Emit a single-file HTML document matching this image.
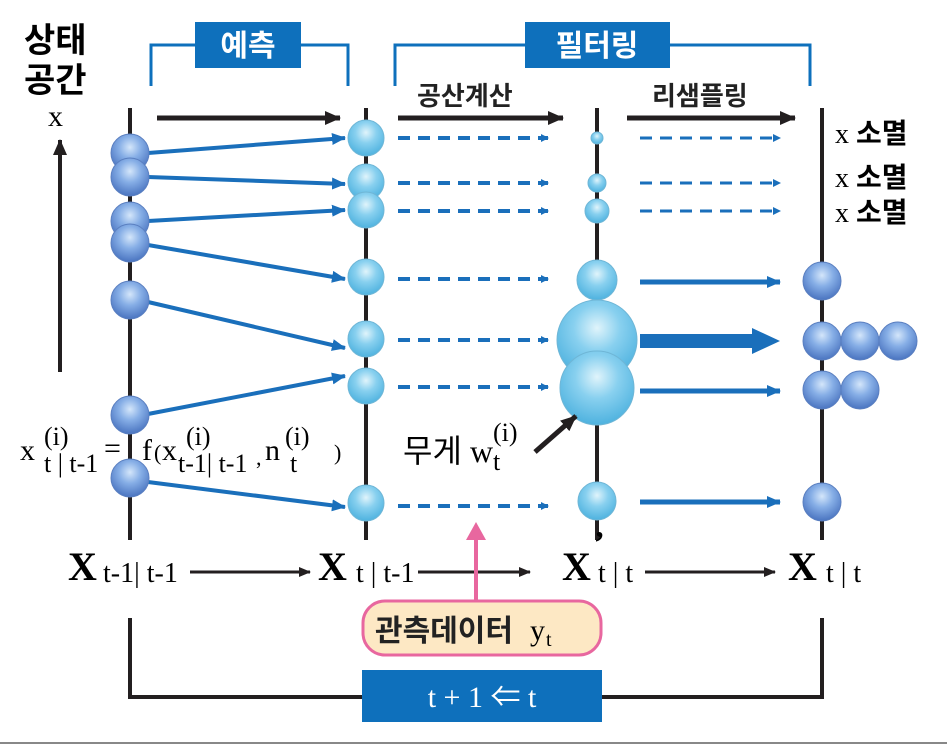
<!DOCTYPE html>
<html><head><meta charset="utf-8"><style>
html,body{margin:0;padding:0;background:#fff;}
svg{display:block;font-family:"Liberation Serif","Noto Sans CJK KR",serif;}
.k{font-family:"Liberation Sans","Noto Sans CJK KR",sans-serif;}
</style></head><body>
<svg width="947" height="745" viewBox="0 0 947 745">
<defs>
<radialGradient id="gb" cx="50%" cy="35%" r="65%"><stop offset="0" stop-color="#d4e6fa"/><stop offset="0.45" stop-color="#86aee6"/><stop offset="1" stop-color="#4a74c0"/></radialGradient>
<radialGradient id="gc" cx="50%" cy="35%" r="65%"><stop offset="0" stop-color="#e0f4fb"/><stop offset="0.45" stop-color="#88d0ef"/><stop offset="1" stop-color="#4eb2df"/></radialGradient>
<marker id="ab" markerWidth="8" markerHeight="8" refX="7" refY="4" orient="auto" markerUnits="userSpaceOnUse"><path d="M0,0 L8,4 L0,8z" fill="#1a6fbb"/></marker>
<marker id="ab2" markerWidth="14" markerHeight="12" refX="13" refY="6" orient="auto" markerUnits="userSpaceOnUse"><path d="M0,0 L14,6 L0,12z" fill="#1a6fbb"/></marker>
<marker id="ak" markerWidth="16" markerHeight="14" refX="15" refY="7" orient="auto" markerUnits="userSpaceOnUse"><path d="M0,0 L16,7 L0,14z" fill="#231f20"/></marker>
<marker id="ak2" markerWidth="12" markerHeight="10" refX="11" refY="5" orient="auto" markerUnits="userSpaceOnUse"><path d="M0,0 L12,5 L0,10z" fill="#231f20"/></marker>
</defs>
<line x1="0" y1="743" x2="947" y2="743" stroke="#888" stroke-width="2"/>
<path d="M130,618 V697 H822 V618" fill="none" stroke="#231f20" stroke-width="4"/>
<rect x="362" y="670" width="240" height="52" fill="#0e70bc"/>
<text x="482" y="707" font-size="30" fill="#fff" text-anchor="middle">t + 1 ⇐ t</text>
<g stroke="#231f20" stroke-width="4">
<line x1="130" y1="108" x2="130" y2="540"/><line x1="366" y1="108" x2="366" y2="540"/>
<line x1="597" y1="108" x2="597" y2="540"/><line x1="822" y1="108" x2="822" y2="540"/>
</g>
<path d="M151,86 V45 H348 V86" fill="none" stroke="#0e70bc" stroke-width="3"/>
<path d="M395,86 V45 H810 V86" fill="none" stroke="#0e70bc" stroke-width="3"/>
<rect x="195" y="22" width="106" height="46" fill="#0e70bc"/>
<text x="248" y="56" class="k" font-size="30" font-weight="bold" fill="#fff" text-anchor="middle">예측</text>
<rect x="525" y="22" width="145" height="46" fill="#0e70bc"/>
<text x="597" y="56" class="k" font-size="30" font-weight="bold" fill="#fff" text-anchor="middle">필터링</text>
<text x="24" y="52" class="k" font-size="34" font-weight="bold">상태</text>
<text x="24" y="92" class="k" font-size="34" font-weight="bold">공간</text>
<text x="48" y="126" font-size="30">x</text>
<line x1="60" y1="372" x2="60" y2="140" stroke="#231f20" stroke-width="4" marker-end="url(#ak)"/>
<g stroke="#231f20" stroke-width="5">
<line x1="157" y1="118" x2="340" y2="118" marker-end="url(#ak)"/>
<line x1="398" y1="118" x2="563" y2="118" marker-end="url(#ak)"/>
<line x1="627" y1="118" x2="795" y2="118" marker-end="url(#ak)"/>
</g>
<text x="417" y="105" class="k" font-size="26" font-weight="bold" fill="#222">공산계산</text>
<text x="652" y="105" class="k" font-size="26" font-weight="bold" fill="#222">리샘플링</text>
<g stroke="#1a6fbb" stroke-width="4" marker-end="url(#ab2)">
<line x1="148" y1="153" x2="345" y2="138"/><line x1="148" y1="177" x2="345" y2="184"/>
<line x1="148" y1="221" x2="345" y2="210"/><line x1="148" y1="245" x2="345" y2="279"/>
<line x1="148" y1="302" x2="345" y2="348"/><line x1="148" y1="414" x2="345" y2="376"/>
<line x1="148" y1="482" x2="345" y2="507"/>
</g>
<g stroke="#1a6fbb" stroke-width="4" stroke-dasharray="12,8" marker-end="url(#ab)">
<line x1="398" y1="138" x2="548" y2="138"/><line x1="398" y1="183" x2="548" y2="183"/>
<line x1="398" y1="211" x2="548" y2="211"/><line x1="398" y1="279" x2="548" y2="279"/>
<line x1="398" y1="340" x2="548" y2="340"/><line x1="398" y1="387" x2="548" y2="387"/>
<line x1="398" y1="506" x2="548" y2="506"/>
<line x1="640" y1="138" x2="780" y2="138" stroke-width="3"/><line x1="640" y1="183" x2="780" y2="183" stroke-width="3"/>
<line x1="640" y1="211" x2="780" y2="211" stroke-width="3"/>
</g>
<g stroke="#1a6fbb" marker-end="url(#ab2)">
<line x1="640" y1="282" x2="780" y2="282" stroke-width="5"/>
<line x1="640" y1="391" x2="780" y2="391" stroke-width="5"/>
<line x1="640" y1="502" x2="780" y2="502" stroke-width="5"/>
</g>
<path d="M640,334 H752 V328 L780,341 L752,354 V348 H640 Z" fill="#1a6fbb"/>
<g fill="url(#gb)" stroke="#5a7fc0" stroke-width="1">
<circle cx="130" cy="153" r="19"/><circle cx="130" cy="177" r="19"/>
<circle cx="130" cy="221" r="19"/><circle cx="130" cy="243" r="19"/>
<circle cx="130" cy="300" r="19"/><circle cx="130" cy="415" r="19"/>
<circle cx="130" cy="478" r="19"/>
<circle cx="822" cy="281" r="19"/><circle cx="822" cy="341" r="19"/><circle cx="860" cy="341" r="19"/><circle cx="898" cy="341" r="19"/>
<circle cx="822" cy="390" r="19"/><circle cx="860" cy="390" r="19"/><circle cx="822" cy="502" r="19"/>
</g>
<g fill="url(#gc)" stroke="#6fb6d6" stroke-width="1">
<circle cx="366" cy="138" r="18"/><circle cx="366" cy="182" r="18"/><circle cx="366" cy="210" r="18"/>
<circle cx="366" cy="277" r="18"/><circle cx="366" cy="339" r="18"/><circle cx="366" cy="386" r="18"/>
<circle cx="366" cy="503" r="18"/>
<circle cx="597" cy="138" r="6"/><circle cx="597" cy="183" r="9"/><circle cx="597" cy="211" r="12"/>
<circle cx="597" cy="280" r="20"/><circle cx="597" cy="340" r="40"/><circle cx="597" cy="388" r="37"/>
<circle cx="597" cy="501" r="19"/>
</g>
<text x="835" y="143" font-size="28">x <tspan class="k" font-weight="bold">소멸</tspan></text>
<text x="835" y="187" font-size="28">x <tspan class="k" font-weight="bold">소멸</tspan></text>
<text x="835" y="222" font-size="28">x <tspan class="k" font-weight="bold">소멸</tspan></text>
<g font-size="30">
<text x="20" y="460">x</text><text x="44" y="445" font-size="26">(i)</text><text x="44" y="472" font-size="26">t | t-1</text>
<text x="104" y="458">=</text><text x="142" y="460">f</text><text x="154" y="460" font-size="22">(</text><text x="162" y="460">x</text>
<text x="186" y="445" font-size="26">(i)</text><text x="178" y="472" font-size="26">t-1| t-1</text><text x="256" y="465" font-size="22">,</text>
<text x="265" y="460">n</text><text x="285" y="445" font-size="26">(i)</text><text x="290" y="472" font-size="26">t</text><text x="334" y="460" font-size="22">)</text>
</g>
<text x="403" y="462" class="k" font-size="32">무게</text>
<text x="470" y="462" font-size="32">w</text><text x="493" y="441" font-size="26">(i)</text><text x="493" y="470" font-size="26">t</text>
<line x1="535" y1="452" x2="576" y2="416" stroke="#231f20" stroke-width="5" marker-end="url(#ak)"/>
<g font-size="28">
<text x="68" y="580" font-size="40" font-weight="bold">X</text><text x="103" y="582">t-1| t-1</text>
<text x="318" y="580" font-size="40" font-weight="bold">X</text><text x="356" y="582">t | t-1</text>
<text x="562" y="580" font-size="40" font-weight="bold">X</text><text x="594" y="553" font-size="32" font-weight="bold">’</text><text x="598" y="582">t | t</text>
<text x="788" y="580" font-size="40" font-weight="bold">X</text><text x="826" y="582">t | t</text>
</g>
<line x1="190" y1="572" x2="310" y2="572" stroke="#231f20" stroke-width="3" marker-end="url(#ak2)"/>
<line x1="418" y1="572" x2="530" y2="572" stroke="#231f20" stroke-width="3" marker-end="url(#ak2)"/>
<line x1="645" y1="572" x2="775" y2="572" stroke="#231f20" stroke-width="3" marker-end="url(#ak2)"/>
<line x1="476" y1="602" x2="476" y2="538" stroke="#e8679f" stroke-width="4"/>
<path d="M466,540 L476,522 L486,540 Z" fill="#e8679f"/>
<rect x="363" y="601" width="238" height="54" rx="22" fill="#fde8c4" stroke="#e8679f" stroke-width="3"/>
<text x="375" y="641" class="k" font-size="30" font-weight="bold" fill="#222">관측데이터</text><text x="530" y="640" font-size="30">y</text><text x="546" y="646" font-size="20">t</text>
</svg>
</body></html>
